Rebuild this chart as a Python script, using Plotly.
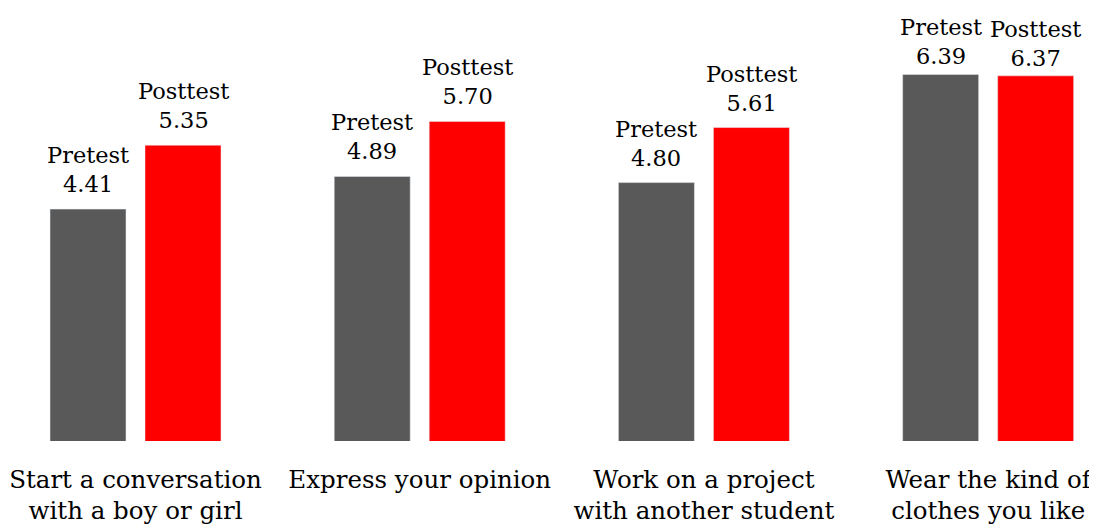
import plotly.graph_objects as go

categories = ["Start a conversation<br>with a boy or girl", "Express your opinion",
              "Work on a project<br>with another student", "Wear the kind of<br>clothes you like"]
pretest = [4.41, 4.89, 4.80, 6.39]
posttest = [5.35, 5.70, 5.61, 6.37]

FONT = "DejaVu Serif"
label_lift = [10, 10, 10, 3]  # pixel gap of the labels above the bars per group

fig = go.Figure()
fig.add_trace(go.Bar(x=categories, y=pretest, name="Pretest", marker_color="#595959"))
fig.add_trace(go.Bar(x=categories, y=posttest, name="Posttest", marker_color="#FF0000"))

# value labels above each bar (offset by half the group spacing)
for name, vals, shift in (("Pretest", pretest, -47.5), ("Posttest", posttest, 47.5)):
    for cat, v, lift in zip(categories, vals, label_lift):
        fig.add_annotation(x=cat, y=v, text=f"{name}<br>{v:.2f}", showarrow=False,
                           xshift=shift, yshift=lift, yanchor="bottom", align="center",
                           font=dict(family=FONT, size=22.5, color="black"))

fig.update_layout(
    width=1089, height=519, barmode="group", bargap=0.3315, bargroupgap=0.2,
    margin=dict(l=0, r=0, t=25, b=86),
    plot_bgcolor="white", paper_bgcolor="white", showlegend=False,
    xaxis=dict(range=[-0.4486, 3.383], showgrid=False, showline=False, ticks="",
               ticklabelstandoff=21,
               tickfont=dict(family=FONT, size=24.5, color="black")),
    yaxis=dict(range=[1, 7], visible=False, showgrid=False),
)
fig.write_html("out.html")
